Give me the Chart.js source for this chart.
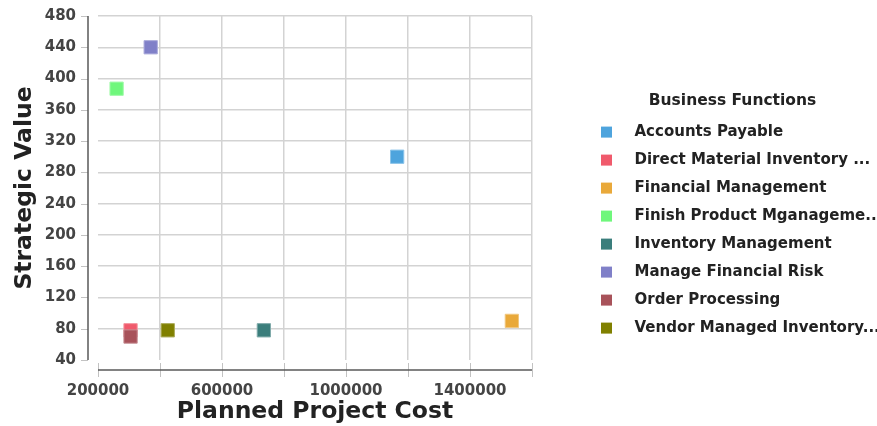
<!DOCTYPE html>
<html>
<head>
<meta charset="utf-8">
<script src="https://cdn.jsdelivr.net/npm/chart.js@4/dist/chart.umd.min.js"></script>
<style>
  html, body { margin: 0; padding: 0; background: #ffffff; }
  canvas { display: block; }
</style>
</head>
<body>
<canvas id="chart" width="877" height="426"></canvas>
<script>
// Business functions plotted by planned cost against strategic value
const businessFunctions = [
  'Accounts Payable',
  'Direct Material Inventory ...',
  'Financial Management',
  'Finish Product Mganageme...',
  'Inventory Management',
  'Manage Financial Risk',
  'Order Processing',
  'Vendor Managed Inventory...'
];
const plannedCost = [1165000, 305000, 1535000, 260000, 735000, 370000, 305000, 425000];
const strategicValue = [300, 78, 90, 387, 78, 440, 70, 78];
const seriesColors = ['#4ea4dd', '#f05a6c', '#e9a93a', '#6ff77c', '#3b7e7c', '#8080c8', '#a8525a', '#808000'];

const yTickValues = [40, 80, 120, 160, 200, 240, 280, 320, 360, 400, 440, 480];
const xTickValues = [200000, 400000, 600000, 800000, 1000000, 1200000, 1400000, 1600000];
const xTickLabels = ['200000', '600000', '1000000', '1400000'];

const FONT = 'DejaVu Sans';

function lighten(hex, f) {
  const n = parseInt(hex.slice(1), 16);
  const r = (n >> 16) & 255, g = (n >> 8) & 255, b = n & 255;
  const m = c => Math.round(c + (255 - c) * f);
  return `rgb(${m(r)},${m(g)},${m(b)})`;
}

// Axis lines sit a little away from the plot, JFreeChart style
const offsetAxes = {
  id: 'offsetAxes',
  beforeDatasetsDraw(chart) {
    const { ctx, chartArea: a, scales: { x, y } } = chart;
    ctx.save();
    ctx.lineWidth = 1;
    ctx.strokeStyle = '#c2c2c2';
    ctx.beginPath();
    y.ticks.forEach(t => {
      const py = Math.round(y.getPixelForValue(t.value)) + 0.5;
      ctx.moveTo(a.left - 17, py);
      ctx.lineTo(a.left - 10, py);
    });
    x.ticks.forEach(t => {
      const px = Math.round(x.getPixelForValue(t.value)) + 0.5;
      ctx.moveTo(px, a.bottom + 3);
      ctx.lineTo(px, a.bottom + 17);
    });
    ctx.stroke();

    ctx.strokeStyle = '#5a5a5a';
    ctx.lineWidth = 1.5;
    ctx.beginPath();
    ctx.moveTo(a.left - 10, a.top);
    ctx.lineTo(a.left - 10, a.bottom);
    ctx.moveTo(a.left, a.bottom + 10);
    ctx.lineTo(a.right, a.bottom + 10);
    ctx.stroke();
    ctx.restore();
  }
};

const datasets = businessFunctions.map((name, i) => ({
  label: name,
  data: [{ x: plannedCost[i], y: strategicValue[i] }],
  backgroundColor: seriesColors[i],
  borderColor: lighten(seriesColors[i], 0.35),
  borderWidth: 1,
  pointStyle: 'rect',
  pointRadius: 9.4,
  order: businessFunctions.length - i
}));

const gridColor = ctx => (ctx.index === 0 ? 'rgba(0,0,0,0)' : '#d3d3d3');

new Chart(document.getElementById('chart'), {
  type: 'scatter',
  data: { datasets },
  plugins: [offsetAxes],
  options: {
    responsive: false,
    animation: false,
    devicePixelRatio: 1,
    layout: { padding: { top: 16, right: 0, bottom: 0, left: 0 } },
    plugins: {
      tooltip: { enabled: false },
      legend: {
        position: 'right',
        align: 'start',
        maxWidth: 289,
        title: {
          display: true,
          text: 'Business Functions',
          color: '#222',
          font: { family: FONT, size: 15.5, weight: 'bold', lineHeight: 1.2 },
          padding: { top: 77, bottom: 0 }
        },
        labels: {
          boxWidth: 11,
          boxHeight: 11,
          padding: 13,
          color: '#222',
          font: { family: FONT, size: 15, weight: 'bold' },
          sort: (a, b) => a.datasetIndex - b.datasetIndex,
          generateLabels(chart) {
            return chart.data.datasets.map((ds, i) => ({
              text: '\u2003' + ds.label,
              fillStyle: ds.backgroundColor,
              strokeStyle: ds.backgroundColor,
              lineWidth: 0,
              hidden: false,
              datasetIndex: i
            }));
          }
        }
      }
    },
    scales: {
      x: {
        type: 'linear',
        min: xTickValues[0],
        max: xTickValues[xTickValues.length - 1],
        afterBuildTicks(scale) { scale.ticks = xTickValues.map(v => ({ value: v })); },
        afterFit(scale) { scale.height = 66; },
        grid: { color: gridColor, lineWidth: 1.5, drawTicks: false },
        border: { display: false },
        ticks: {
          padding: 22,
          color: '#444',
          font: { family: FONT, size: 15, weight: 'bold' },
          maxRotation: 0,
          autoSkip: false,
          callback: v => (xTickLabels.includes(String(v)) ? String(v) : '')
        },
        title: {
          display: true,
          text: 'Planned Project Cost',
          color: '#222',
          font: { family: FONT, size: 23.5, weight: 'bold', lineHeight: 1.2 },
          padding: { top: -2, bottom: 0 }
        }
      },
      y: {
        type: 'linear',
        min: yTickValues[0],
        max: yTickValues[yTickValues.length - 1],
        afterBuildTicks(scale) { scale.ticks = yTickValues.map(v => ({ value: v })); },
        afterFit(scale) { scale.width = 98; },
        grid: {
          color: gridColor,
          lineWidth: 1.5,
          drawTicks: true,
          tickLength: 15,
          tickColor: 'rgba(0,0,0,0)'
        },
        border: { display: false },
        ticks: {
          padding: 7,
          color: '#444',
          font: { family: FONT, size: 15, weight: 'bold' },
          callback: v => String(v)
        },
        title: {
          display: true,
          text: 'Strategic Value',
          color: '#222',
          font: { family: FONT, size: 23.5, weight: 'bold', lineHeight: 1.2 },
          padding: { top: 11, bottom: 0 }
        }
      },
      gap: {
        type: 'linear',
        position: 'right',
        display: true,
        grid: { display: false },
        border: { display: false },
        ticks: { display: false },
        afterFit(scale) { scale.width = 56; }
      }
    }
  }
});
</script>
</body>
</html>
